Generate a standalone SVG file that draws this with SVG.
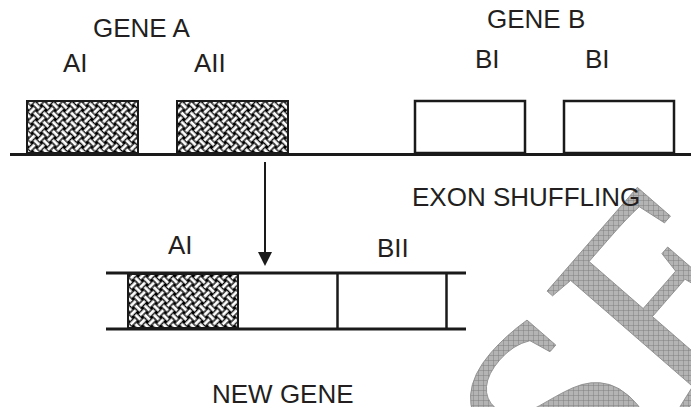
<svg xmlns="http://www.w3.org/2000/svg" width="691" height="407" viewBox="0 0 691 407">
<defs>
<style>
.lbl{font-family:"Liberation Sans",Arial,sans-serif;font-size:26px;fill:#231f20}
.ln{stroke:#1a1a1a;stroke-width:3;fill:none}
.box{fill:#fff;stroke:#1a1a1a;stroke-width:2.5}
.hbox{fill:url(#weave);stroke:#1a1a1a;stroke-width:2}
.wm{font-family:"Liberation Serif","Times New Roman",serif;font-size:280px;fill:url(#grid);stroke:#8a8a8a;stroke-width:0.8}
</style>
<pattern id="weave" patternUnits="userSpaceOnUse" width="13" height="13" patternTransform="rotate(45)">
<rect width="13" height="13" fill="#000"/>
<g fill="#fff">
<rect x="0" y="1.8" width="13" height="3"/>
<rect x="0" y="8.3" width="13" height="3"/>
<rect x="1.8" y="0" width="3" height="13"/>
<rect x="8.3" y="0" width="3" height="13"/>
</g>
<path d="M1.8 1.1H4.8M1.8 5.5H4.8M7.6 1.8V4.8M12 1.8V4.8M1.1 8.3V11.3M5.5 8.3V11.3M8.3 7.6H11.3M8.3 12H11.3" stroke="#000" stroke-width="1.4"/>
</pattern>
<pattern id="grid" patternUnits="userSpaceOnUse" width="5" height="5" patternTransform="rotate(49)">
<rect width="5" height="5" fill="#b4b4b4"/>
<path d="M0 0.3H5M0.3 0V5" stroke="#7e7e7e" stroke-width="0.6"/>
</pattern>
</defs>

<g id="watermark">
<text class="wm" transform="translate(578,535) rotate(-49)">SEC</text>
</g>

<g id="gene-a">
<text class="lbl" x="93" y="37">GENE A</text>
<g id="exon-AI">
<text class="lbl" x="63" y="72">AI</text>
<rect class="hbox" x="27" y="101" width="111" height="52"/>
</g>
<g id="exon-AII">
<text class="lbl" x="194" y="72">AII</text>
<rect class="hbox" x="177" y="101" width="111" height="52"/>
</g>
</g>

<g id="gene-b">
<text class="lbl" x="487" y="28">GENE B</text>
<g id="exon-BI-1">
<text class="lbl" x="475" y="68">BI</text>
<rect class="box" x="415" y="101" width="110" height="52"/>
</g>
<g id="exon-BI-2">
<text class="lbl" x="585" y="68">BI</text>
<rect class="box" x="564" y="101" width="110" height="52"/>
</g>
</g>

<g id="chromosome-line">
<line class="ln" x1="10" y1="154.5" x2="691" y2="154.5"/>
</g>

<g id="shuffling-label">
<text class="lbl" x="412" y="206">EXON SHUFFLING</text>
</g>

<g id="new-gene">
<text class="lbl" x="168" y="254">AI</text>
<text class="lbl" x="377" y="257">BII</text>
<rect class="hbox" x="128" y="274" width="110" height="54"/>
<line class="ln" x1="106" y1="273" x2="466" y2="273"/>
<line class="ln" x1="106" y1="329" x2="466" y2="329"/>
<line class="ln" x1="337.5" y1="273" x2="337.5" y2="329" style="stroke-width:2.5"/>
<line class="ln" x1="446.5" y1="273" x2="446.5" y2="329" style="stroke-width:2.5"/>
<text class="lbl" x="212" y="403">NEW GENE</text>
</g>

<g id="connectors">
<line x1="265" y1="162" x2="265" y2="253" stroke="#1a1a1a" stroke-width="2"/>
<path d="M258 252L272 252L265 266Z" fill="#1a1a1a"/>
</g>
</svg>
